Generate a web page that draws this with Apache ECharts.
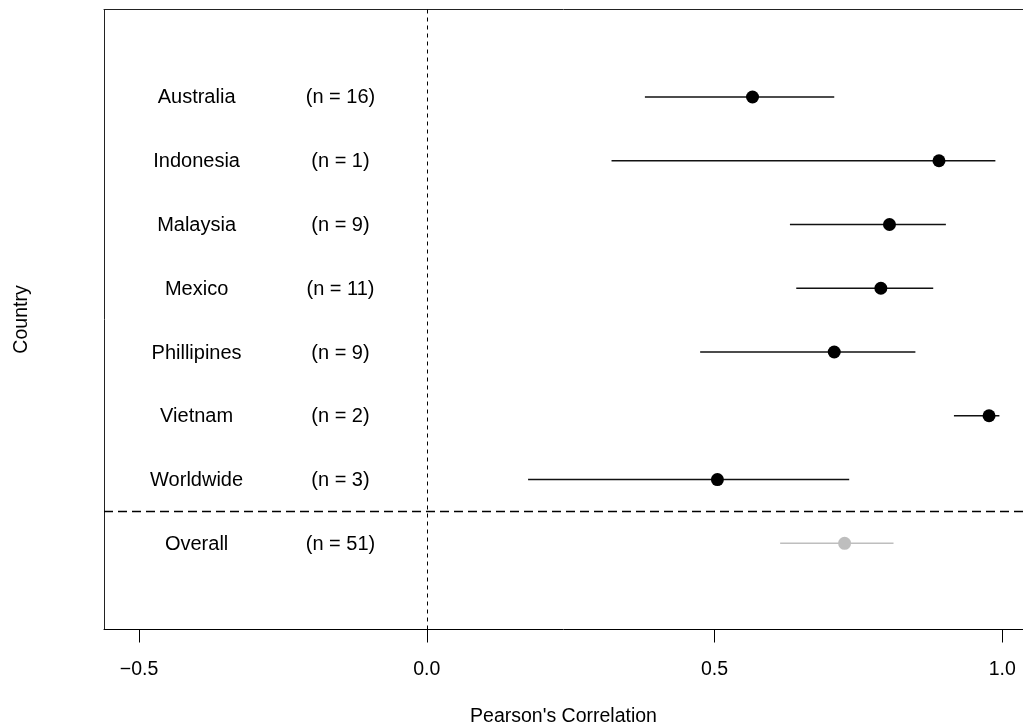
<!DOCTYPE html>
<html>
<head>
<meta charset="utf-8">
<script src="https://cdn.jsdelivr.net/npm/echarts@6/dist/echarts.min.js"></script>
<style>
html,body{margin:0;padding:0;background:#fff;}
#chart{width:1023px;height:725px;}
</style>
</head>
<body>
<div id="chart"></div>
<script>
var countries = ['Australia','Indonesia','Malaysia','Mexico','Phillipines','Vietnam','Worldwide','Overall'];
var nLabels = ['(n = 16)','(n = 1)','(n = 9)','(n = 11)','(n = 9)','(n = 2)','(n = 3)','(n = 51)'];
var estimates = [0.566, 0.890, 0.804, 0.789, 0.708, 0.977, 0.505, 0.726];
var lower = [0.379, 0.321, 0.631, 0.642, 0.475, 0.916, 0.176, 0.614];
var upper = [0.708, 0.988, 0.902, 0.880, 0.849, 0.995, 0.734, 0.811];
var xTicks = [-0.5, 0.0, 0.5, 1.0];
var countryLabelX = -0.4;
var nLabelX = -0.15;
var separatorY = 6.5;

var FONT = '"Liberation Sans", Arial, Helvetica, sans-serif';
var GRAY = '#bebebe';
var isOverall = function(i){ return countries[i] === 'Overall'; };

var ciData = countries.map(function(c, i){ return [lower[i], upper[i], i]; });
var ptData = countries.map(function(c, i){
  return { value: [estimates[i], i], itemStyle: { color: isOverall(i) ? GRAY : '#000', opacity: 1 } };
});
var textData = countries.map(function(c, i){ return [i]; });

var chart = echarts.init(document.getElementById('chart'), null, {renderer: 'canvas'});
chart.setOption({
  animation: false,
  backgroundColor: '#fff',
  grid: { left: 104, top: 9.5, width: 919, height: 620, show: false, containLabel: false, outerBoundsMode: 'none' },
  xAxis: [{
    type: 'value', min: -0.5609, max: 1.036, position: 'bottom',
    axisLine: { show: true, onZero: false, lineStyle: { color: '#000', width: 1 } },
    axisTick: { show: true, length: 13, lineStyle: { color: '#000' }, customValues: xTicks },
    axisLabel: { show: true, margin: 30, fontSize: 19.5, fontFamily: FONT, color: '#000', customValues: xTicks,
      formatter: function(v){ return v.toFixed(1).replace('-', '\u2212'); } },
    splitLine: { show: false },
    name: "Pearson's Correlation", nameLocation: 'middle', nameGap: 77,
    nameTextStyle: { fontSize: 19.5, fontFamily: FONT, color: '#000' }
  }, {
    type: 'value', min: -0.5609, max: 1.036, position: 'top',
    axisLine: { show: true, onZero: false, lineStyle: { color: '#222', width: 1 } },
    axisTick: { show: false }, axisLabel: { show: false }, splitLine: { show: false }
  }],
  yAxis: {
    type: 'value', inverse: true, min: -1.372, max: 8.352, position: 'left',
    axisLine: { show: true, onZero: false, lineStyle: { color: '#222', width: 1 } },
    axisTick: { show: false }, axisLabel: { show: false }, splitLine: { show: false },
    name: 'Country', nameLocation: 'middle', nameGap: 72, nameRotate: 90,
    nameTextStyle: { fontSize: 19.5, fontFamily: FONT, color: '#000' }
  },
  series: [
    {
      type: 'scatter', data: [], silent: true,
      markLine: {
        silent: true, symbol: 'none', label: { show: false },
        data: [
          { xAxis: 0, lineStyle: { type: [4, 4], color: '#000', width: 1 } },
          { yAxis: separatorY, lineStyle: { type: [9, 5], color: '#000', width: 1.3 } }
        ]
      }
    },
    {
      type: 'custom', data: ciData, silent: true,
      renderItem: function(params, api){
        var i = api.value(2);
        var p1 = api.coord([api.value(0), i]);
        var p2 = api.coord([api.value(1), i]);
        return { type: 'line', shape: { x1: p1[0], y1: p1[1], x2: p2[0], y2: p2[1] },
          style: { stroke: isOverall(i) ? GRAY : '#111', lineWidth: 1.4 } };
      }
    },
    {
      type: 'scatter', data: ptData, symbol: 'circle', symbolSize: 13, silent: true
    },
    {
      type: 'custom', data: textData, silent: true,
      renderItem: function(params, api){
        var i = api.value(0);
        var a = api.coord([countryLabelX, i]);
        var b = api.coord([nLabelX, i]);
        return { type: 'group', children: [
          { type: 'text', style: { x: a[0], y: a[1] + 1, text: countries[i], align: 'center', verticalAlign: 'middle', fontSize: 20, fontFamily: FONT, fill: '#000' } },
          { type: 'text', style: { x: b[0], y: b[1] + 1, text: nLabels[i], align: 'center', verticalAlign: 'middle', fontSize: 20, fontFamily: FONT, fill: '#000' } }
        ]};
      }
    }
  ]
});
</script>
</body>
</html>
